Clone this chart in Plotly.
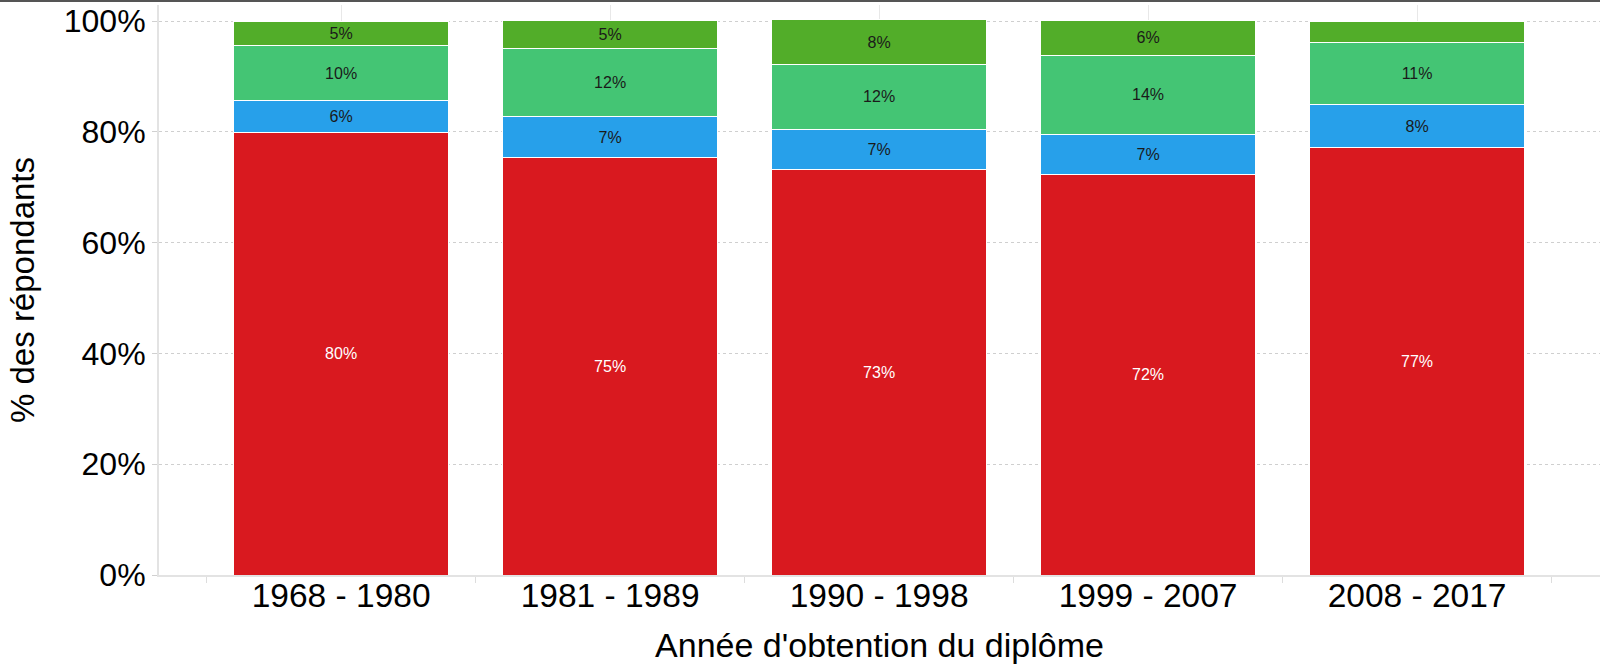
import plotly.graph_objects as go

categories = ["1968 - 1980", "1981 - 1989", "1990 - 1998", "1999 - 2007", "2008 - 2017"]

red_vals = [79.9, 75.3, 73.2, 72.3, 77.1]
blue_vals = [5.7, 7.4, 7.3, 7.3, 7.8]
lgreen_vals = [9.9, 12.3, 11.7, 14.2, 11.3]
dgreen_vals = [4.5, 5.1, 8.0, 6.3, 3.8]

red_text = ["80%", "75%", "73%", "72%", "77%"]
blue_text = ["6%", "7%", "7%", "7%", "8%"]
lgreen_text = ["10%", "12%", "12%", "14%", "11%"]
dgreen_text = ["5%", "5%", "8%", "6%", ""]

y_ticks = [0, 20, 40, 60, 80, 100]
y_tick_labels = ["0%", "20%", "40%", "60%", "80%", "100%"]

FONT = "Liberation Sans, Arial, sans-serif"
xpos = list(range(len(categories)))

series = [
    (red_vals, red_text, "#D9191F", "#ffffff"),
    (blue_vals, blue_text, "#27A0EA", "#1a1a1a"),
    (lgreen_vals, lgreen_text, "#44C574", "#1a1a1a"),
    (dgreen_vals, dgreen_text, "#52AD29", "#1a1a1a"),
]

fig = go.Figure()
for vals, txt, col, tcol in series:
    fig.add_trace(go.Bar(
        x=xpos, y=vals, text=txt, texttemplate="%{text}",
        textposition="inside", insidetextanchor="middle", textangle=0,
        constraintext="none",
        textfont=dict(family=FONT, size=16, color=tcol),
        marker=dict(color=col, line=dict(color="#ffffff", width=1)),
        width=0.8, showlegend=False, hoverinfo="skip",
    ))

fig.update_layout(
    barmode="stack",
    width=1600, height=671,
    margin=dict(l=159, r=0, t=5, b=96),
    paper_bgcolor="white", plot_bgcolor="white",
    font=dict(family=FONT, color="#000000"),
    xaxis=dict(
        range=[-0.677, 4.68],
        tickmode="array", tickvals=xpos, ticktext=categories,
        tickfont=dict(size=33.5, family=FONT, color="#000"),
        ticks="", ticklabelstandoff=-10,
        showgrid=True, gridcolor="#e8e8e8", gridwidth=1,
        showline=True, linecolor="#e3e3e3", linewidth=2, zeroline=False,
        minor=dict(tickmode="array", tickvals=[i - 0.5 for i in range(len(categories) + 1)],
                   ticks="outside", ticklen=6, tickcolor="#dddddd", tickwidth=1, showgrid=False),
        title=dict(text="Année d'obtention du diplôme", font=dict(size=34, family=FONT, color="#000"), standoff=20),
        automargin=False,
    ),
    yaxis=dict(
        range=[0, 102.9],
        tickmode="array", tickvals=y_ticks, ticktext=y_tick_labels,
        tickfont=dict(size=32, family=FONT, color="#000"),
        ticks="outside", ticklen=5, tickcolor="#d0d0d0",
        showgrid=True, gridcolor="#cfcfcf", griddash="dot", gridwidth=1,
        showline=True, linecolor="#e3e3e3", linewidth=2, zeroline=False,
        title=dict(text="% des répondants", font=dict(size=33, family=FONT, color="#000"), standoff=19),
        automargin=False,
    ),
    shapes=[dict(type="line", xref="paper", yref="paper",
                 x0=-159 / 1441, x1=1.0, y0=1 + 4 / 570, y1=1 + 4 / 570,
                 line=dict(color="#555555", width=2))],
)

fig.write_html("out.html", config={"displayModeBar": False},
               post_script="document.body.style.margin='0';document.body.style.padding='0';")
